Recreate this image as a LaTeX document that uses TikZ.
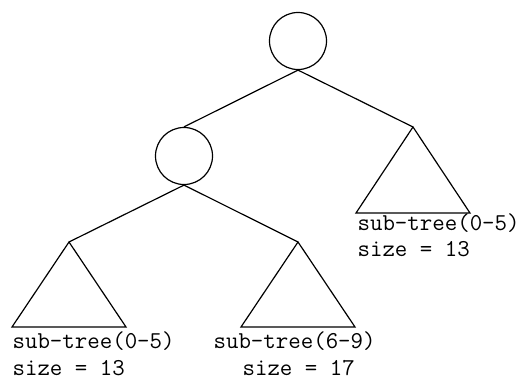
\documentclass[tikz,border=0pt]{standalone}
\begin{document}
\begin{tikzpicture}[x=1pt,y=-1pt,line width=1.2pt,
  treenode/.style={draw,circle,minimum size=57pt,inner sep=0pt},
  lbl/.style={anchor=base west,inner sep=0pt,font=\fontsize{24.2}{26}\selectfont\ttfamily}]
\useasboundingbox (0,0) rectangle (525,379);
\node[treenode] (root) at (298,41) {};
\node[treenode] (mid) at (184,156) {};
\coordinate (ra) at (413,127);
\coordinate (rl) at (356,213);
\coordinate (rr) at (470,213);
\coordinate (la) at (69,242);
\coordinate (ll) at (12,327);
\coordinate (lr) at (126,327);
\coordinate (ma) at (298,242);
\coordinate (ml) at (241,327);
\coordinate (mr) at (355,327);
\draw (root.south) -- (mid.north);
\draw (root.south) -- (ra);
\draw (mid.south) -- (la);
\draw (mid.south) -- (ma);
\draw[line join=miter] (ra) -- (rl) -- (rr) -- cycle;
\draw[line join=miter] (la) -- (ll) -- (lr) -- cycle;
\draw[line join=miter] (ma) -- (ml) -- (mr) -- cycle;
\node[lbl] (t1) at (357,231) {sub-tree(0-5)};
\node[lbl] (s1) at (357,257) {size = 13};
\node[lbl] (t2) at (12,349) {sub-tree(0-5)};
\node[lbl] (s2) at (12,375) {size = 13};
\node[lbl] (t3) at (213,349) {sub-tree(6-9)};
\node[lbl] (s3) at (242,375) {size = 17};
\end{tikzpicture}
\end{document}
